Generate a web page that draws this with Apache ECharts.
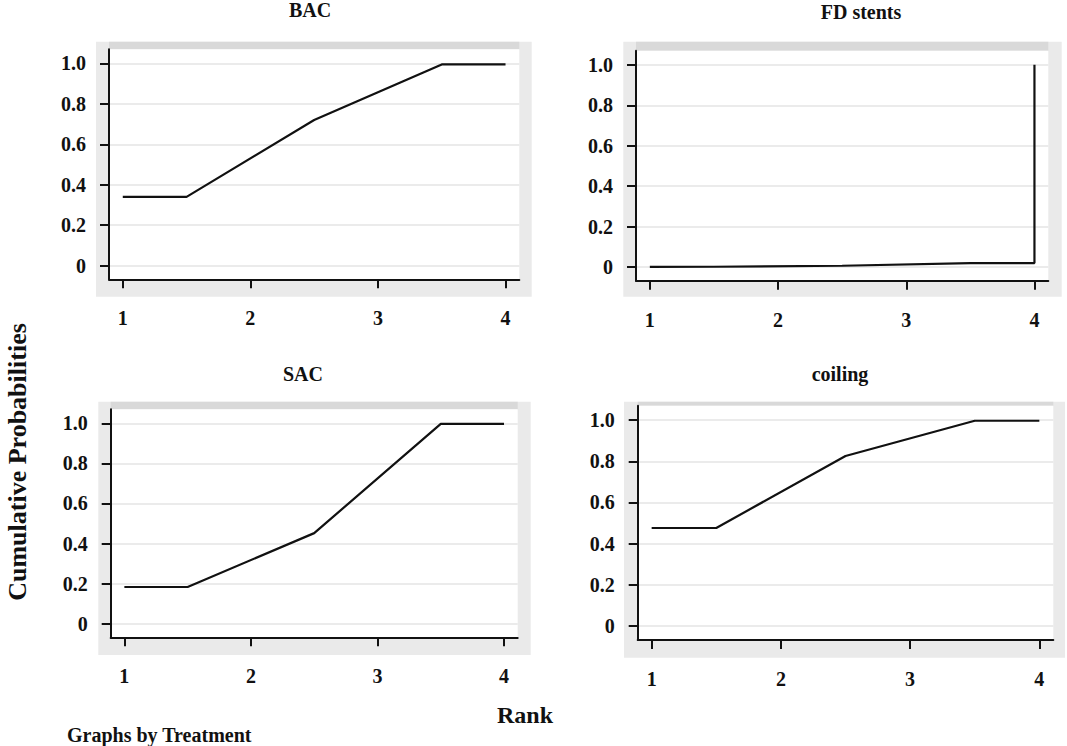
<!DOCTYPE html>
<html>
<head>
<meta charset="utf-8">
<title>Cumulative Probabilities by Treatment</title>
<script src="https://cdn.jsdelivr.net/npm/echarts@6/dist/echarts.min.js"></script>
<style>
  html, body { margin: 0; padding: 0; background: #fff; }
  #chart { width: 1067px; height: 746px; }
</style>
</head>
<body>
<div id="chart"></div>
<script>
// data
var treatments = ['BAC', 'FD stents', 'SAC', 'coiling'];
var rank = [1, 1.5, 2.5, 3.5, 4];
var bacProb = [0.34, 0.34, 0.72, 0.995, 0.995];
var fdRank = [1, 1.5, 2.5, 3.5, 4, 4];
var fdProb = [0, 0.001, 0.006, 0.019, 0.019, 1.0];
var sacProb = [0.183, 0.183, 0.452, 0.997, 0.997];
var coilingProb = [0.476, 0.476, 0.826, 0.997, 0.997];
var xTicks = [1, 2, 3, 4];
var yTicks = [0, 0.2, 0.4, 0.6, 0.8, 1.0];

var seriesX = [rank, fdRank, rank, rank];
var seriesY = [bacProb, fdProb, sacProb, coilingProb];

// panel layout (px): outer grey box, white plot region, title centre
var panels = [
  { gray: [96, 41.7, 435.7, 255], grid: [109, 49.3, 410.3, 230], title: [310, 10] },
  { gray: [623.3, 41.7, 438.4, 255], grid: [636, 50.7, 412.3, 230], title: [861, 12] },
  { gray: [98.3, 401.7, 432.4, 253.3], grid: [110.7, 409.3, 407, 228], title: [303, 374] },
  { gray: [624, 401.7, 441, 256], grid: [637.7, 405.7, 415.6, 234.3], title: [840, 374] }
];

var font = 'Liberation Serif';
var ink = '#111';

var chartDom = document.getElementById('chart');
var myChart = echarts.init(chartDom, null, { renderer: 'svg' });

var grids = [], xAxes = [], yAxes = [], series = [], titles = [], graphics = [];

panels.forEach(function (p, i) {
  graphics.push({
    type: 'rect', z: -10,
    shape: { x: p.gray[0], y: p.gray[1], width: p.gray[2], height: p.gray[3] },
    style: { fill: '#eaeaea' }
  });
  graphics.push({
    type: 'rect', z: -9,
    shape: { x: p.grid[0], y: p.gray[1], width: p.grid[2], height: p.grid[1] - p.gray[1] },
    style: { fill: '#d9d9d9' }
  });

  grids.push({
    left: p.grid[0], top: p.grid[1], width: p.grid[2], height: p.grid[3],
    show: true, backgroundColor: '#fff', borderWidth: 0, containLabel: false
  });

  titles.push({
    text: treatments[i],
    left: p.title[0], top: p.title[1], padding: 0,
    textAlign: 'center', textVerticalAlign: 'middle',
    textStyle: { fontFamily: font, fontWeight: 'bold', fontSize: 20, color: ink }
  });

  xAxes.push({
    type: 'value', gridIndex: i, position: 'bottom',
    min: 0.892, max: 4.108,
    axisLine: { show: true, onZero: false, lineStyle: { color: ink, width: 2 } },
    axisTick: { show: true, length: 9, customValues: xTicks, lineStyle: { color: ink, width: 2 } },
    axisLabel: {
      customValues: xTicks, margin: 29,
      fontFamily: font, fontWeight: 'bold', fontSize: 20, color: ink
    },
    splitLine: { show: false }
  });

  yAxes.push({
    type: 'value', gridIndex: i,
    min: -0.068, max: 1.07,
    axisLine: { show: true, onZero: false, lineStyle: { color: ink, width: 2 } },
    axisTick: { show: true, length: 9, customValues: yTicks, lineStyle: { color: ink, width: 2 } },
    axisLabel: {
      customValues: yTicks, margin: 23,
      fontFamily: font, fontWeight: 'bold', fontSize: 20, color: ink,
      formatter: function (v) { return v === 0 ? '0' : v.toFixed(1); }
    },
    splitLine: { show: true, lineStyle: { color: '#e4e4e4', width: 1.5 } }
  });

  series.push({
    name: treatments[i],
    type: 'line',
    xAxisIndex: i, yAxisIndex: i,
    showSymbol: false,
    animation: false,
    lineStyle: { color: ink, width: 2.2 },
    data: seriesX[i].map(function (x, k) { return [x, seriesY[i][k]]; })
  });
});

graphics.push({
  type: 'text', x: 17, y: 462, rotation: Math.PI / 2,
  style: {
    text: 'Cumulative Probabilities', fill: ink,
    font: 'bold 26px "Liberation Serif"',
    textAlign: 'center', textVerticalAlign: 'middle', align: 'center', verticalAlign: 'middle'
  }
});
graphics.push({
  type: 'text', x: 525, y: 715,
  style: {
    text: 'Rank', fill: ink,
    font: 'bold 24px "Liberation Serif"',
    textAlign: 'center', textVerticalAlign: 'middle', align: 'center', verticalAlign: 'middle'
  }
});
graphics.push({
  type: 'text', x: 67, y: 735,
  style: {
    text: 'Graphs by Treatment', fill: ink,
    font: 'bold 20px "Liberation Serif"',
    textAlign: 'left', textVerticalAlign: 'middle', align: 'left', verticalAlign: 'middle'
  }
});

var option = {
  backgroundColor: '#fff',
  animation: false,
  title: titles,
  grid: grids,
  xAxis: xAxes,
  yAxis: yAxes,
  series: series,
  graphic: graphics
};

option && myChart.setOption(option);
</script>
</body>
</html>
